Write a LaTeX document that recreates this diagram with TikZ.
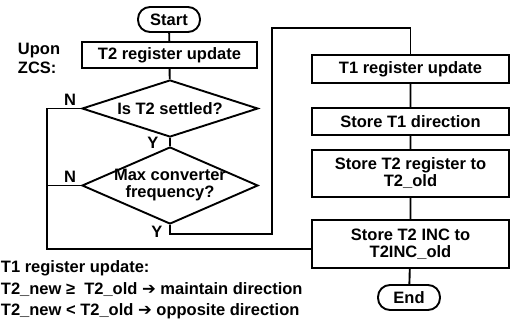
\documentclass[tikz,border=0pt]{standalone}
\usepackage{fontspec}
\setmainfont{Liberation Sans}
\newfontfamily\arrowfont{DejaVu Sans}
\usetikzlibrary{shapes.geometric}
\begin{document}
\begin{tikzpicture}[x=1pt,y=1pt,line width=1.9pt,line join=miter,
    font=\fontsize{16.5}{17}\selectfont\bfseries,
    box/.style={draw,minimum width=175,minimum height=26,inner sep=1pt},
    rbox/.style={draw,minimum width=197,align=center,inner sep=1pt},
    term/.style={draw,rounded corners=12pt,minimum width=62,minimum height=25,inner sep=0pt},
    decision/.style={draw,diamond,aspect=3,minimum width=176,minimum height=57,inner sep=0pt},
    yn/.style={inner sep=0pt}]
\useasboundingbox (0,0) rectangle (511,-324);

% left column
\node[term] (start) at (169,-19.5) {Start};
\node[box] (t2upd) at (169.5,-55) {T2 register update};
\node[decision] (settled) at (170,-108.5) {Is T2 settled?};
\node[decision,minimum height=77] (maxf) at (170,-185.5) {};
\node[align=center,inner sep=0pt] (maxftxt) at (maxf) {Max converter\\frequency?};
\node[align=left,anchor=north west,inner sep=0pt,font=\fontsize{16.5}{19}\selectfont\bfseries]
    (upon) at (17,-42.2) {Upon\\ZCS:};

% right column
\node[rbox,minimum height=28] (t1upd) at (410.5,-69) {T1 register update};
\node[rbox,minimum height=27] (t1dir) at (410.5,-121.5) {Store T1 direction};
\node[rbox,minimum height=47] (t2old) at (410.5,-173.5) {Store T2 register to\\T2\_old};
\node[rbox,minimum height=48] (incold) at (410.5,-244) {Store T2 INC to\\T2INC\_old};
\node[term] (end) at (409,-297.5) {End};

\node[yn] (n1) at (70,-100) {N};
\node[yn] (n2) at (70,-177) {N};
\node[yn] (y1) at (153,-143) {Y};
\node[yn] (y2) at (157,-232) {Y};

\coordinate (ncorner) at (47,-249);
\coordinate (ybot) at (170,-234);
\coordinate (ytop) at (272,-28);

\draw (start) -- (t2upd) -- (settled) -- (maxf);
\draw (settled.west) -| (ncorner) -- (ncorner -| incold.west);
\draw (maxf.west) -- (maxf.west -| ncorner);
\draw (maxf.south) -- (maxf.south |- ybot) -| (ytop) -| (t1upd.north);
\draw (t1upd) -- (t1dir) -- (t2old) -- (incold) -- (end);

\node[align=left,anchor=north west,inner sep=0pt,font=\fontsize{16.5}{21.5}\selectfont\bfseries]
    (note) at (0,-260) {T1 register update:\\
    T2\_new ≥\ \ T2\_old {\arrowfont➔} maintain direction\\
    T2\_new < T2\_old {\arrowfont➔} opposite direction};
\end{tikzpicture}
\end{document}
